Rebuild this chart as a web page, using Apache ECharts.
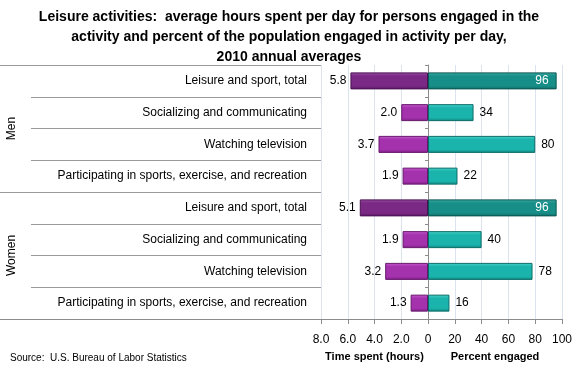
<!DOCTYPE html>
<html><head><meta charset="utf-8">
<script src="https://cdn.jsdelivr.net/npm/echarts@6/dist/echarts.min.js"></script>
<style>html,body{margin:0;padding:0;background:#fff}#c{width:578px;height:368px}</style>
</head><body><div id="c"></div>
<script>
var titleText = 'Leisure activities:  average hours spent per day for persons engaged in the\nactivity and percent of the population engaged in activity per day,\n2010 annual averages';
var groups = ['Men', 'Women'];
var categories = [
  'Leisure and sport, total', 'Socializing and communicating', 'Watching television', 'Participating in sports, exercise, and recreation',
  'Leisure and sport, total', 'Socializing and communicating', 'Watching television', 'Participating in sports, exercise, and recreation'
];
var hoursSpent = [5.8, 2.0, 3.7, 1.9, 5.1, 1.9, 3.2, 1.3];
var percentEngaged = [96, 34, 80, 22, 96, 40, 78, 16];
var hoursTicks = ['', '2.0', '4.0', '6.0', '8.0'];
var percentTicks = ['0', '20', '40', '60', '80', '100'];
var sourceText = 'Source:  U.S. Bureau of Labor Statistics';

var FONT = 'Liberation Sans';
var keys = categories.map(function (c, i) { return 'r' + i; });

function grad(top, mid, bot) {
  return new echarts.graphic.LinearGradient(0, 0, 0, 1, [
    { offset: 0, color: top }, { offset: 0.22, color: mid }, { offset: 0.8, color: mid }, { offset: 1, color: bot }
  ]);
}
function purpleStyle(i) {
  return i % 4 === 0
    ? { color: grad('#9c4ea5', '#7a2984', '#5b1864'), borderColor: '#4a1252', borderWidth: 1 }
    : { color: grad('#c85ad0', '#a432ad', '#7c1e84'), borderColor: '#66186c', borderWidth: 1 };
}
function tealStyle(i) {
  return i % 4 === 0
    ? { color: grad('#3eaaa4', '#188e88', '#0f6a66'), borderColor: '#0a5652', borderWidth: 1 }
    : { color: grad('#4ad2ca', '#1ab4ac', '#10857f'), borderColor: '#0c6e69', borderWidth: 1 };
}

var leftData = hoursSpent.map(function (v, i) {
  return { value: v, itemStyle: purpleStyle(i) };
});
var rightData = percentEngaged.map(function (v, i) {
  var d = { value: v, itemStyle: tealStyle(i) };
  if (v >= 90) d.label = { position: 'insideRight', color: '#fff', distance: 8 };
  return d;
});

var chart = echarts.init(document.getElementById('c'), null, { renderer: 'canvas' });
var axisGray = '#8c8c8c';
var gridBlue = '#dbe3ef';
var tickLabelStyle = { fontFamily: FONT, fontSize: 12, color: '#000' };

chart.setOption({
  animation: false,
  title: [{
    text: titleText, left: 'center', top: 2,
    textStyle: { fontFamily: FONT, fontSize: 14, fontWeight: 'bold', color: '#000', lineHeight: 20 }
  }, {
    text: sourceText, left: 5, top: 348,
    textStyle: { fontFamily: FONT, fontSize: 10, fontWeight: 'normal', color: '#000' }
  }],
  grid: [
    { left: 321, right: 150, top: 65, height: 254 },
    { left: 428, right: 16, top: 65, height: 254 },
    { left: 31, right: 257, top: 65, height: 254 },
    { left: 0, right: 257, top: 65, height: 254 }
  ],
  xAxis: [
    {
      gridIndex: 0, type: 'value', min: 0, max: 8, interval: 2, inverse: true,
      name: 'Time spent (hours)', nameLocation: 'middle', nameGap: 32,
      nameTextStyle: { fontFamily: FONT, fontSize: 11, fontWeight: 'bold', color: '#000' },
      axisLine: { show: true, lineStyle: { color: axisGray } },
      axisTick: { show: true, length: 5, lineStyle: { color: axisGray } },
      axisLabel: Object.assign({ margin: 15, formatter: function (v) { return hoursTicks[v / 2]; } }, tickLabelStyle),
      splitLine: { show: true, lineStyle: { color: gridBlue } }
    },
    {
      gridIndex: 1, type: 'value', min: 0, max: 100, interval: 20,
      name: 'Percent engaged', nameLocation: 'middle', nameGap: 32,
      nameTextStyle: { fontFamily: FONT, fontSize: 11, fontWeight: 'bold', color: '#000' },
      axisLine: { show: true, lineStyle: { color: axisGray } },
      axisTick: { show: true, length: 5, lineStyle: { color: axisGray } },
      axisLabel: Object.assign({ margin: 15, formatter: function (v) { return percentTicks[v / 20]; } }, tickLabelStyle),
      splitLine: { show: true, lineStyle: { color: gridBlue } }
    },
    { gridIndex: 2, type: 'value', show: true, axisLine: { show: true, lineStyle: { color: axisGray } }, axisTick: { show: false }, axisLabel: { show: false }, splitLine: { show: false } },
    { gridIndex: 3, type: 'value', show: true, axisLine: { show: true, lineStyle: { color: axisGray } }, axisTick: { show: false }, axisLabel: { show: false }, splitLine: { show: false } }
  ],
  yAxis: [
    {
      gridIndex: 0, type: 'category', data: keys, inverse: true, position: 'left',
      axisLine: { show: false, onZero: false }, axisTick: { show: false },
      axisLabel: Object.assign({ margin: 14, formatter: function (v) { return categories[+v.slice(1)]; } }, tickLabelStyle),
      splitLine: { show: false }
    },
    {
      gridIndex: 1, type: 'category', data: keys, inverse: true, position: 'left',
      axisLine: { show: true, lineStyle: { color: axisGray } },
      axisTick: { show: true, length: 3, lineStyle: { color: axisGray } },
      axisLabel: { show: false }, splitLine: { show: false }
    },
    {
      gridIndex: 2, type: 'category', data: keys, inverse: true,
      axisLine: { show: false }, axisTick: { show: false }, axisLabel: { show: false },
      splitLine: { show: true, lineStyle: { color: '#9a9a9a' } }
    },
    {
      gridIndex: 3, type: 'category', data: groups, inverse: true,
      axisLine: { show: false }, axisTick: { show: false },
      axisLabel: Object.assign({ inside: true, rotate: 90, margin: 6 }, tickLabelStyle),
      splitLine: { show: true, lineStyle: { color: '#9a9a9a' } }
    }
  ],
  series: [
    {
      type: 'bar', xAxisIndex: 0, yAxisIndex: 0, data: leftData, barWidth: 17,
      label: { show: true, position: 'left', distance: 4, fontFamily: FONT, fontSize: 12, color: '#000',
        formatter: function (p) { return p.value.toFixed(1); } }
    },
    {
      type: 'bar', xAxisIndex: 1, yAxisIndex: 1, data: rightData, barWidth: 17,
      label: { show: true, position: 'right', distance: 6, fontFamily: FONT, fontSize: 12, color: '#000' }
    }
  ]
});
</script></body></html>
